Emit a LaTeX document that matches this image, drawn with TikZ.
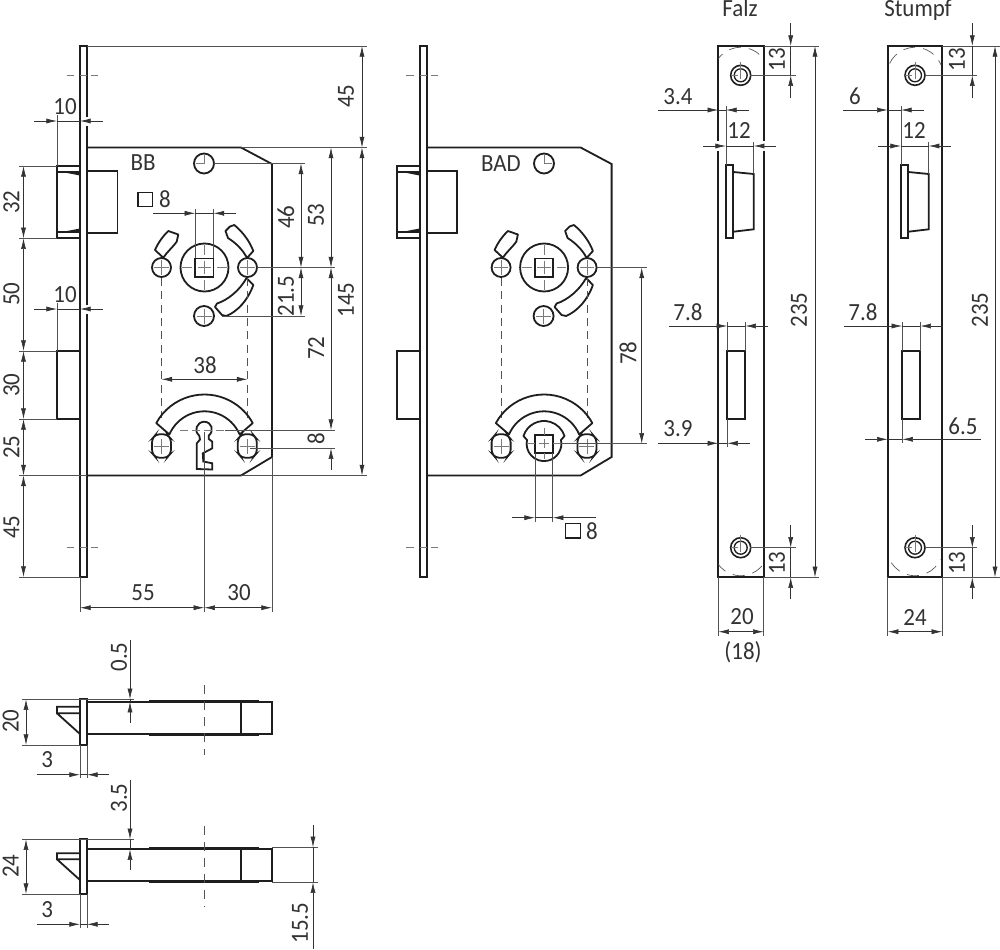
\documentclass[tikz,border=0pt]{standalone}
\usepackage{fontspec}
\setmainfont[FakeStretch=0.93]{Carlito}
\usetikzlibrary{arrows.meta}
\definecolor{ink}{HTML}{1E1E1E}
\definecolor{dimc}{HTML}{333333}
\definecolor{txt}{HTML}{333333}
\newcounter{lb}
\tikzset{
  outl/.style={draw=ink,line width=1.35pt,line join=miter},
  slot/.style={draw=ink,line width=1.35pt,line join=round},
  thickbar/.style={draw=ink,line width=2.2pt},
  dimln/.style={draw=dimc,line width=.5pt},
  ext/.style={draw=dimc!85,line width=.5pt},
  hid/.style={draw=dimc!85,line width=.6pt,dash pattern=on 6pt off 4pt},
  cl/.style={draw=dimc!65,line width=.42pt},
  dt/.tip={Latex[length=8pt,width=3.8pt]},
  lab/.style={text=txt,font=\fontsize{18.5}{19}\selectfont,inner sep=0pt},
}
% labels
\newcommand\Lab[3]{\stepcounter{lb}\node[lab] (lab\arabic{lb}) at (#1,#2) {#3};}
\newcommand\LabB[3]{\stepcounter{lb}\node[lab,anchor=base] (lab\arabic{lb}) at (#1,#2) {#3};}
\newcommand\LabR[3]{\stepcounter{lb}\node[lab,rotate=90] (lab\arabic{lb}) at (#1,#2) {#3};}
% dimension lines
\newcommand\Vd[3]{\draw[dimln,dt-dt] (#1,#2)--(#1,#3);}
\newcommand\Hd[3]{\draw[dimln,dt-dt] (#2,#1)--(#3,#1);}
% outside arrows on one continuous line
\newcommand\Ho[5]{\draw[dimln,-dt] (#2,#1)--(#3,#1); \draw[dimln,-dt] (#5,#1)--(#4,#1); \draw[dimln] (#3,#1)--(#4,#1);}
\newcommand\Vo[5]{\draw[dimln,-dt] (#1,#2)--(#1,#3); \draw[dimln,-dt] (#1,#5)--(#1,#4); \draw[dimln] (#1,#3)--(#1,#4);}
\newcommand\Ln[4]{\draw[ext] (#1,#2)--(#3,#4);}
\newcommand\Gap[3]{\draw[white,line width=3pt] (#1,#2)--(#1,#3);}
% centre marks
\newcommand\Cross[3]{%
  \foreach \a/\b in {-0.92/-0.52,-0.28/0.28,0.52/0.92}{%
    \draw[cl] (#1+\a*#3,#2)--(#1+\b*#3,#2);
    \draw[cl] (#1,#2+\a*#3)--(#1,#2+\b*#3);}}
\newcommand\SmallCross[3]{\draw[cl] (#1-0.75*#3,#2)--(#1+0.75*#3,#2) (#1,#2-0.75*#3)--(#1,#2+0.75*#3);}
% the lock case, shared by the two views
\newcommand\LockBody{%
  \draw[outl] (80,46) rectangle (87,577);
  \draw[outl] (87,147.5)--(241,147.5)--(272,164)--(272,457)--(241,475.5)--(87,475.5);
  % latch
  \draw[outl] (80,166)--(57,166)--(57,238.3)--(80,238.3);
  \draw[outl] (57,172)--(80,172); \draw[outl] (57,232)--(80,232);
  \fill[ink] (62,172)--(80,172)--(80,175.5)--cycle;
  \fill[ink] (62,232)--(80,232)--(80,228.5)--cycle;
  \draw[outl] (87,170.7)--(117.5,170.7)--(117.5,233.3)--(87,233.3);
  % bolt
  \draw[outl] (80,351)--(57,351)--(57,419)--(80,419);
  % centre marks of the plate holes
  \foreach \yy in {75,547.7}{\draw[cl] (66.5,\yy)--(74,\yy) (80,\yy)--(87,\yy) (91,\yy)--(98,\yy);}
  % upper group
  \draw[outl] (204.5,267.5) circle[radius=24];
  \draw[outl] (195.3,258.5) rectangle (213.5,276.7);
  \draw[outl] (161.5,267.5) circle[radius=9.5];
  \draw[outl] (247.5,267.5) circle[radius=9.5];
  \draw[outl] (204,316) circle[radius=10];
  \Cross{204.5}{267.5}{24}
  \SmallCross{161.5}{267.5}{9.5}
  \SmallCross{247.5}{267.5}{9.5}
  \SmallCross{204}{316}{10}
  % kidney slots
  \draw[slot] (225.5,231) -- (230,226.5) -- (234.3,225) .. controls (243,232) and (250,242) .. (253.3,251)
     -- (247,258) .. controls (243,250) and (236,243) .. (228,238) -- cycle;
  \draw[slot] (246.5,278) -- (253.3,285) .. controls (248,300) and (238,311) .. (226.5,316)
     -- (222,315) -- (215,307) -- (217,303.5) .. controls (228,300) and (240,290) .. (246.5,278) -- cycle;
  \draw[slot] (155,250) .. controls (158,243) and (163,236) .. (168.3,231) -- (178.3,234.5) -- (176.7,241.7)
     .. controls (172,248) and (167,252) .. (163.3,257.7) -- cycle;
  \draw[hid] (161.5,278)--(161.5,418);
  \draw[hid] (247.5,278)--(247.5,418);
  % lower arch and pins
  \begin{scope}[shift={(204.5,449.5)}]
    \draw[slot] (-151.3:55) arc[start angle=-151.3,end angle=-28.7,radius=55]
       -- (-23.2:38.2) arc[start angle=-23.2,end angle=-156.8,radius=38.2] -- cycle;
  \end{scope}
  \foreach \xx in {161.5,247.3}{
    \draw[outl,rounded corners=2.5pt] (\xx-5.5,434.3)--(\xx+5.5,434.3)--(\xx+9.5,439)--(\xx+9.5,453)--(\xx+5.5,457.7)--(\xx-5.5,457.7)--(\xx-9.5,453)--(\xx-9.5,439)--cycle;
    \SmallCross{\xx}{446}{10}
  }
}
\newcommand\BodyKey{%
  \draw[outl,fill=white] (199.2,435.5)
     .. controls (193.5,431) and (196.5,422) .. (204.3,421.7)
     .. controls (212,422) and (214.5,431) .. (208.8,435.5)
     -- (208.8,439) -- (212.3,441.7) -- (212.3,448.3) -- (202.8,453.3) -- (203.3,461.5)
     -- (212.3,463.3) -- (212.3,469.5) -- (196.7,469) -- (196.7,443.5) -- (200,439.5) -- cycle;
}
\begin{document}
\begin{tikzpicture}[x=0.75pt,y=-0.75pt]
\useasboundingbox (0,0) rectangle (1000,950);
\fill[white] (0,0) rectangle (1000,950);
% ================= BB view
\LockBody
\BodyKey
\draw[outl] (204,163.5) circle[radius=10];
\draw[cl] (204,155)--(204,163.5) (196,163.5)--(204,163.5);
\Lab{143}{163}{BB}
\draw[draw=ink,line width=1pt] (138,192.3) rectangle (152.5,206.7);
\Lab{165}{199.5}{8}
% left chain
\Vd{23.5}{166}{238.3}\Vd{23.5}{238.3}{351}\Vd{23.5}{351}{419}\Vd{23.5}{419}{475.5}\Vd{23.5}{475.5}{577}
\Ln{19}{166}{57}{166}\Ln{19}{238.3}{57}{238.3}\Ln{19}{351}{57}{351}\Ln{19}{419}{57}{419}\Ln{19}{475.5}{87}{475.5}\Ln{19}{577}{80}{577}
\LabR{11.5}{202}{32}\LabR{11.5}{294}{50}\LabR{11.5}{385}{30}\LabR{11.5}{447}{25}\LabR{11.5}{527}{45}
% tens
\Gap{87}{117}{126}\Gap{87}{305}{314}
\Ln{57}{115}{57}{166}\Ln{57}{303}{57}{351}
\Ho{121}{34}{57}{80}{103}\Ho{309}{34}{57}{80}{103}
\Lab{65}{107}{10}\Lab{65}{295}{10}
% top/right overall
\Ln{87}{46}{367}{46}\Ln{241}{147.5}{367}{147.5}\Ln{241}{475.5}{367}{475.5}
\Vd{362}{46}{147.5}\Vd{362}{147.5}{475.5}
\LabR{346}{96}{45}\LabR{346}{300}{145}
% inner right
\Ln{214}{163.5}{305}{163.5}\Ln{257}{267.5}{335}{267.5}\Ln{222}{316}{305}{316}
\Vd{301}{163.5}{267.5}\Vd{301}{267.5}{316}
\LabR{286}{217}{46}\LabR{286}{296}{21.5}
\Vd{331}{147.5}{267.5}\Vd{331}{267.5}{430}
\LabR{316}{215}{53}\LabR{316}{348}{72}
\draw[cl,dash pattern=on 6pt off 3pt] (180,430)--(225,430);
\Ln{225}{430}{335}{430}\Ln{250}{448.3}{335}{448.3}
\draw[dimln,dt-] (331,448.3)--(331,470);
\LabR{316}{438.5}{8}
% 38
\Hd{379.3}{161.5}{247.5}\Lab{205}{365}{38}
% square 8
\Ln{195.3}{209}{195.3}{258}\Ln{213.5}{209}{213.5}{258}
\Ho{213.3}{153}{195.3}{213.5}{236}
% bottom
\Ln{204.3}{432}{204.3}{612}\Ln{272}{457}{272}{612}\Ln{80}{577}{80}{612}
\Hd{607.7}{80}{204.3}\Hd{607.7}{204.3}{272}
\Lab{143}{593}{55}\Lab{239}{593}{30}
% ================= BAD view
\begin{scope}[shift={(339.6,0)}]
\LockBody
\end{scope}
\draw[outl] (544,163.5) circle[radius=10];
\draw[cl] (544,155)--(544,163.5) (544,163.5)--(552,163.5);
\Lab{501}{163.5}{BAD}
% lower follower
\draw[slot] (527,440)--(523.5,436) arc[start angle=-162.5,end angle=-17.5,radius=21.5]
   --(561,440) arc[start angle=-12.3,end angle=192.3,radius=17.4] -- cycle;
\draw[outl] (535,435) rectangle (552.8,452.7);
\Cross{544}{443.7}{17}
\Ln{561}{443.7}{646.5}{443.7}\Ln{597}{267.5}{646.5}{267.5}
\Vd{641.7}{267.5}{443.7}
\LabR{628}{353}{78}
\Ln{535}{453}{535}{522}\Ln{552.8}{453}{552.8}{522}
\Ho{517.7}{512}{535}{552.8}{595.7}
\draw[draw=ink,line width=1pt] (565.5,523.3) rectangle (580.5,538);
\Lab{592}{531}{8}
% ================= Falz / Stumpf
\LabB{740}{16.5}{Falz}
\LabB{918}{16.5}{Stumpf}
\draw[outl] (718.3,46) rectangle (763.7,577.3);
\draw[outl] (887.7,46) rectangle (942.3,577.3);
\foreach \xx/\xa/\xb in {740.7/718.3/763.7,915/887.7/942.3}{
  \foreach \yy in {75.3,547.7}{
    \draw[outl,line width=1.2pt] (\xx,\yy) circle[radius=10];
    \draw[outl,line width=1pt] (\xx,\yy) circle[radius=6.5];
    \draw[cl] (\xx-10,\yy)--(\xx-3,\yy) (\xx,\yy-13)--(\xx,\yy+4);
  }
  \begin{scope}
    \clip (\xa,46) rectangle (\xb,64);
    \draw[ext,dash pattern=on 9pt off 6pt] (\xx,75.3) circle[radius=28];
  \end{scope}
  \begin{scope}
    \clip (\xa,559) rectangle (\xb,577.3);
    \draw[ext,dash pattern=on 9pt off 6pt] (\xx,547.7) circle[radius=28];
  \end{scope}
}
% Falz latch, bolt
\draw[outl] (726,165) rectangle (733.3,238.3);
\draw[outl] (733.3,172)--(753.7,174)--(753.7,229.3)--(733.3,231.7);
\draw[outl] (727.3,350.7) rectangle (745.3,419.3);
% Stumpf latch, bolt
\draw[outl] (901,165) rectangle (908.3,238.3);
\draw[outl] (908.3,172)--(928.7,174)--(928.7,229.3)--(908.3,231.7);
\draw[outl] (902.3,350.7) rectangle (920.3,419.3);
% 13s
\Ln{763.7}{46}{819}{46}\Ln{750}{75.3}{795.7}{75.3}\Ln{763.7}{577.3}{819}{577.3}\Ln{750}{547.7}{795.7}{547.7}
\Vo{790.7}{23}{46}{75.3}{98}\Vo{790.7}{525}{547.7}{577.3}{599.3}
\LabR{777}{60}{13}\LabR{777}{563}{13}
\Ln{942.3}{46}{1000}{46}\Ln{925}{75.3}{976.7}{75.3}\Ln{942.3}{577.3}{1000}{577.3}\Ln{925}{547.7}{976.7}{547.7}
\Vo{972.3}{23}{46}{75.3}{98}\Vo{972.3}{525}{547.7}{577.3}{599.3}
\LabR{957}{60}{13}\LabR{957}{563}{13}
% 235
\Vd{815}{46}{577.3}\LabR{799}{310}{235}
\Vd{995}{46}{577.3}\LabR{980}{310}{235}
% 3.4 / 6
\Gap{718.3}{141}{151}\Gap{763.7}{141}{151}
\Ln{726}{106}{726}{165}\Ln{753.7}{142}{753.7}{174}
\Ho{110}{658}{718.3}{726}{749}\Lab{678}{96.5}{3.4}
\Ho{146}{703}{726}{753.7}{776}\Lab{739}{130}{12}
\Ln{901}{106}{901}{165}\Ln{928.7}{142}{928.7}{174}
\Ho{110}{843}{887.7}{901}{924}\Lab{855}{96.5}{6}
\Ho{146}{878}{901}{928.7}{951}\Lab{914}{130}{12}
% 7.8
\Ln{727.3}{322}{727.3}{351}\Ln{745.3}{322}{745.3}{351}
\Ho{326}{669}{727.3}{745.3}{767.7}\Lab{688}{312}{7.8}
\Ln{902.3}{322}{902.3}{351}\Ln{920.3}{322}{920.3}{351}
\Ho{326}{844}{902.3}{920.3}{943}\Lab{863}{312}{7.8}
% 3.9 / 6.5
\Ln{727.3}{419}{727.3}{447}
\Ho{443.3}{658}{718.3}{727.3}{750}\Lab{678}{429}{3.9}
\Ln{902.3}{419}{902.3}{443}
\Ho{439.3}{865}{887.7}{902.3}{981}\Lab{963}{426}{6.5}
% widths
\Ln{718.3}{577}{718.3}{636}\Ln{763.7}{577}{763.7}{636}
\Hd{631.7}{718.3}{763.7}\Lab{742}{617}{20}\Lab{743}{652}{(18)}
\Ln{887.7}{577}{887.7}{636}\Ln{942.3}{577}{942.3}{636}
\Hd{631.7}{887.7}{942.3}\Lab{915}{617}{24}
% ================= bottom views
% view 1
\draw[outl] (80,699.3) rectangle (87,745);
\draw[outl] (87,701.7)--(272,701.7)--(272,734)--(87,734);
\draw[outl] (240.7,701.7)--(240.7,734);
\draw[thickbar] (149,701)--(259,701) (149,735)--(259,735);
\draw[outl] (80,706.7)--(57,706.7)--(57,713.3)--(80,713.3) (57,713.3)--(80,734);
\draw[hid,dash pattern=on 7pt off 5pt] (204.3,685)--(204.3,755);
\Ln{21.7}{699.3}{134}{699.3}\Ln{21.7}{745}{80}{745}
\Vd{26}{699.3}{745}\LabR{10.7}{721}{20}
\Vo{130}{640}{699.3}{701.7}{722.7}
\LabR{119}{657}{0.5}
\Ln{80}{745}{80}{778}\Ln{87}{745}{87}{778}
\Ho{774.7}{36.7}{80}{87}{109.3}\Lab{47.3}{760}{3}
% view 2
\draw[outl] (80,839.3) rectangle (87,894);
\draw[outl] (87,849)--(272,849)--(272,881)--(87,881);
\draw[outl] (240.7,849)--(240.7,881);
\draw[thickbar] (149,848.3)--(259,848.3) (149,882)--(259,882);
\draw[outl] (80,853.3)--(57,853.3)--(57,859.3)--(80,859.3) (57,859.3)--(80,880);
\draw[hid,dash pattern=on 7pt off 5pt] (204.3,826)--(204.3,907);
\Ln{21.7}{839.3}{134}{839.3}\Ln{21.7}{894}{80}{894}
\Vd{26}{839.3}{894}\LabR{10.7}{866}{24}
\Vo{130}{780}{839.3}{849.3}{870}
\LabR{119}{798}{3.5}
\Ln{80}{894}{80}{928}\Ln{87}{894}{87}{928}
\Ho{924.3}{36.7}{80}{87}{109.3}\Lab{47.3}{910}{3}
\Ln{272}{847.3}{318}{847.3}\Ln{272}{882.3}{318}{882.3}
\Vo{313}{825}{847.3}{882.3}{949}
\LabR{300}{923}{15.5}
\end{tikzpicture}
\end{document}
